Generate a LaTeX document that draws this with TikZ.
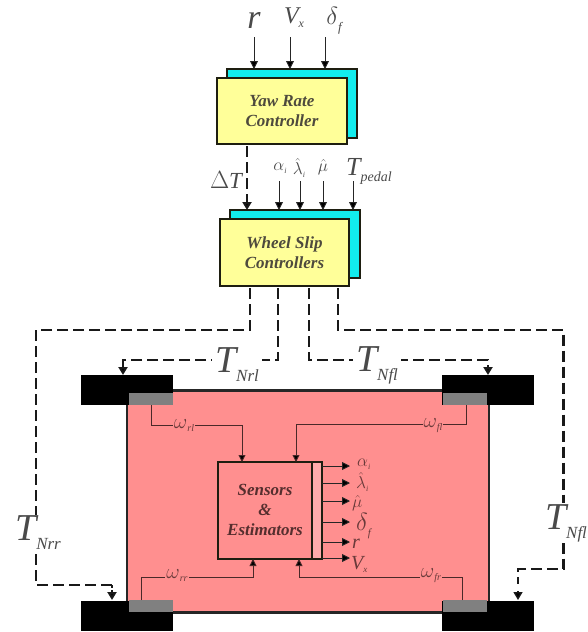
\documentclass[tikz,border=0pt]{standalone}
\usepackage{fontspec}
\setmainfont{Liberation Serif}
\usetikzlibrary{arrows.meta}
\definecolor{ylw}{HTML}{FFFF99}
\definecolor{cyn}{HTML}{12EDED}
\definecolor{pnk}{HTML}{FF8F8F}
\definecolor{gry}{HTML}{808080}
\definecolor{lbl}{HTML}{4A4A4A}
\definecolor{lblr}{HTML}{6A3A3A}
\definecolor{edg}{HTML}{1E1E10}
\newcommand{\sz}[1]{\fontsize{#1}{#1}\selectfont}
% size, sub size, drop, main, sub
\newcommand{\tsub}[5]{{\sz{#1}#4}\raisebox{-#3pt}{\sz{#2}\itshape #5}}
\tikzset{
  box/.style={draw=edg,line width=1.4pt,inner sep=0pt,outer sep=0pt,align=center,font=\sz{17}\bfseries\itshape,text=#1},
  box/.default={black!80!yellow},
  wheel/.style={fill=black,inner sep=0pt,outer sep=0pt,minimum width=92pt,minimum height=30pt},
  hub/.style={fill=gry,inner sep=0pt,outer sep=0pt,minimum width=44pt,minimum height=12pt},
  sig/.style={draw=black!85,line width=0.9pt,-{Triangle[length=8pt,width=8pt,fill=black]}},
  sigr/.style={draw=lblr!70!black,line width=0.9pt,-{Triangle[length=7pt,width=7pt,fill=black]}},
  tq/.style={draw=black!90,line width=2.4pt,dash pattern=on 11pt off 5pt},
  tqa/.style={tq,-{Triangle[length=8pt,width=9pt,fill=black]}},
  tag/.style={inner sep=0pt,text=lbl},
  tagr/.style={inner sep=0pt,text=lblr},
  hide/.style={fill=white,inner sep=1pt,text=lbl},
  hidep/.style={fill=pnk,inner sep=1pt,text=lblr}
}
\begin{document}
\begin{tikzpicture}[x=1pt,y=-1pt]
\useasboundingbox (0,0) rectangle (587,632);
% body
\node[draw=black!85,fill=pnk,line width=2.4pt,inner sep=0pt,outer sep=0pt,minimum width=362pt,minimum height=222pt] (body) at (308,501.5) {};
% wheels
\node[wheel] (wrl) at (127,390) {};
\node[wheel] (wfl) at (488,390) {};
\node[wheel] (wrr) at (127,615.5) {};
\node[wheel] (wfr) at (488,615.5) {};
\node[hub] (hrl) at (151,399) {};
\node[hub] (hfl) at (465,399) {};
\node[hub] (hrr) at (151,606) {};
\node[hub] (hfr) at (465,606) {};
% controllers
\node[box,fill=cyn,minimum width=130pt,minimum height=69pt] (yawb) at (292,103.5) {};
\node[box,fill=ylw,minimum width=130pt,minimum height=66pt] (yaw) at (282,111) {Yaw Rate\\[3pt]Controller};
\node[box,fill=cyn,minimum width=130pt,minimum height=68pt] (slipb) at (295,244) {};
\node[box,fill=ylw,minimum width=129pt,minimum height=67pt] (slip) at (284.5,252.5) {Wheel Slip\\[3pt]Controllers};
% sensors
\node[draw=edg,fill=pnk,line width=1.8pt,inner sep=0pt,outer sep=0pt,minimum width=104pt,minimum height=97pt] (sens) at (270,510.5) {};
\node[draw=edg,line width=1.4pt,fill=pnk!75!white,inner sep=0pt,outer sep=0pt,minimum width=10pt,minimum height=97pt] (strip) at (317,510.5) {};
\node[inner sep=0pt,align=center,font=\sz{17}\bfseries\itshape,text=lblr!80!black] (senstxt) at (265,510) {Sensors\\[3pt]\&\\[3pt]Estimators};
% input top
\coordinate (i1) at (254,37);
\coordinate (i2) at (290,37);
\coordinate (i3) at (325,37);
\draw[sig] (i1) -- (i1 |- yawb.north);
\draw[sig] (i2) -- (i2 |- yawb.north);
\draw[sig] (i3) -- (i3 |- yawb.north);
\node[tag] (lr) at (254,20) {\sz{34}\itshape r};
\node[tag] (lv) at (294,18) {\tsub{24}{12}{4}{\itshape V}{x}};
\node[tag] (ld) at (334,21) {\tsub{36}{13}{7}{$\delta$}{f}};
% inputs slip
\coordinate (j1) at (279,181);
\coordinate (j2) at (300,181);
\coordinate (j3) at (323,181);
\coordinate (j4) at (353,181);
\draw[sig] (j1) -- (j1 |- slipb.north);
\draw[sig] (j2) -- (j2 |- slipb.north);
\draw[sig] (j3) -- (j3 |- slipb.north);
\draw[sig] (j4) -- (j4 |- slipb.north);
\node[tag] (la) at (280,168) {\tsub{17}{8}{3}{$\alpha$}{i}};
\node[tag] (ll) at (299,168) {\tsub{18}{8}{3}{$\hat\lambda$}{i}};
\node[tag] (lm) at (323,167) {\sz{18}$\hat\mu$};
\node[tag] (lp) at (369,171) {\tsub{26}{14}{6}{\itshape T}{pedal}};
% delta T
\coordinate (dt) at (247,146);
\draw[tqa] (dt) -- (dt |- slipb.north);
\node[tag] (ldt) at (226,180) {\sz{23}$\Delta$\itshape T};
% torque lines
\coordinate (o1) at (250,288);
\coordinate (o2) at (278,288);
\coordinate (o3) at (309,288);
\coordinate (o4) at (338,288);
\draw[tqa] (o2) -- (278,360) -- (123,360) -- (123,375);
\draw[tqa] (o3) -- (309,360) -- (488,360) -- (488,375);
\draw[tq] (o1) -- (250,330) -- (36,330) -- (36,585) -- (112,585);
\draw[-{Triangle[length=8pt,width=9pt,fill=black]},line width=2pt,black!90,dash pattern=on 3pt off 2pt] (112,585) -- (112,600);
\draw[tq] (o4) -- (338,330) -- (563.5,330) -- (563.5,569) -- (518,569) -- (518,584);
\draw[-{Triangle[length=8pt,width=9pt,fill=black]},line width=1.4pt,black!90] (518,591) -- (518,600);
\node[hide,inner xsep=3pt] (tnrl) at (237,365) {\tsub{38}{17}{9}{\itshape T}{Nrl}};
\node[hide,inner xsep=3pt] (tnfl) at (377,365) {\tsub{38}{17}{9}{\itshape T}{Nfl}};
\node[hide] (tnrr) at (38,533) {\tsub{38}{17}{9}{\itshape T}{Nrr}};
\node[hide] (tnfr) at (566,523) {\tsub{38}{17}{9}{\itshape T}{Nfl}};
% wheel speed signals
\draw[sigr] (hrl.south) |- (242,425) -- (242,462);
\draw[sigr] (466,405) |- (296,424.5) -- (296,462);
\draw[sigr] (141,600) |- (253,577) -- (253,559);
\draw[sigr] (462,600) |- (299,577) -- (299,559);
\node[hidep] (wrl1) at (184,426) {\tsub{22}{10}{3}{$\omega$}{rl}};
\node[hidep] (wfl1) at (433,426) {\tsub{22}{10}{3}{$\omega$}{fl}};
\node[hidep] (wrr1) at (177,576) {\tsub{22}{10}{3}{$\omega$}{rr}};
\node[hidep] (wfr1) at (431,576) {\tsub{22}{10}{3}{$\omega$}{fr}};
% outputs
\foreach \n/\y in {a/466,b/483,c/501,d/522,e/542,f/558}{
  \coordinate (s\n) at (322,\y);
  \coordinate (t\n) at (350,\y);
  \draw[sig] (s\n) -- (t\n);
}
\node[tagr,anchor=west] (oa) at (357,464) {\tsub{16}{8}{3}{$\alpha$}{i}};
\node[tagr,anchor=west] (ob) at (356,482) {\tsub{16}{8}{3}{$\hat\lambda$}{i}};
\node[tagr,anchor=west] (oc) at (352,503) {\sz{17}$\hat\mu$};
\node[tagr,anchor=west] (od) at (356,526) {\tsub{24}{11}{6}{$\delta$}{f}};
\node[tagr,anchor=west] (oe) at (352,544) {\sz{20}\itshape r};
\node[tagr,anchor=west] (of) at (351,564) {\tsub{20}{9}{3}{\itshape V}{x}};
\end{tikzpicture}
\end{document}
